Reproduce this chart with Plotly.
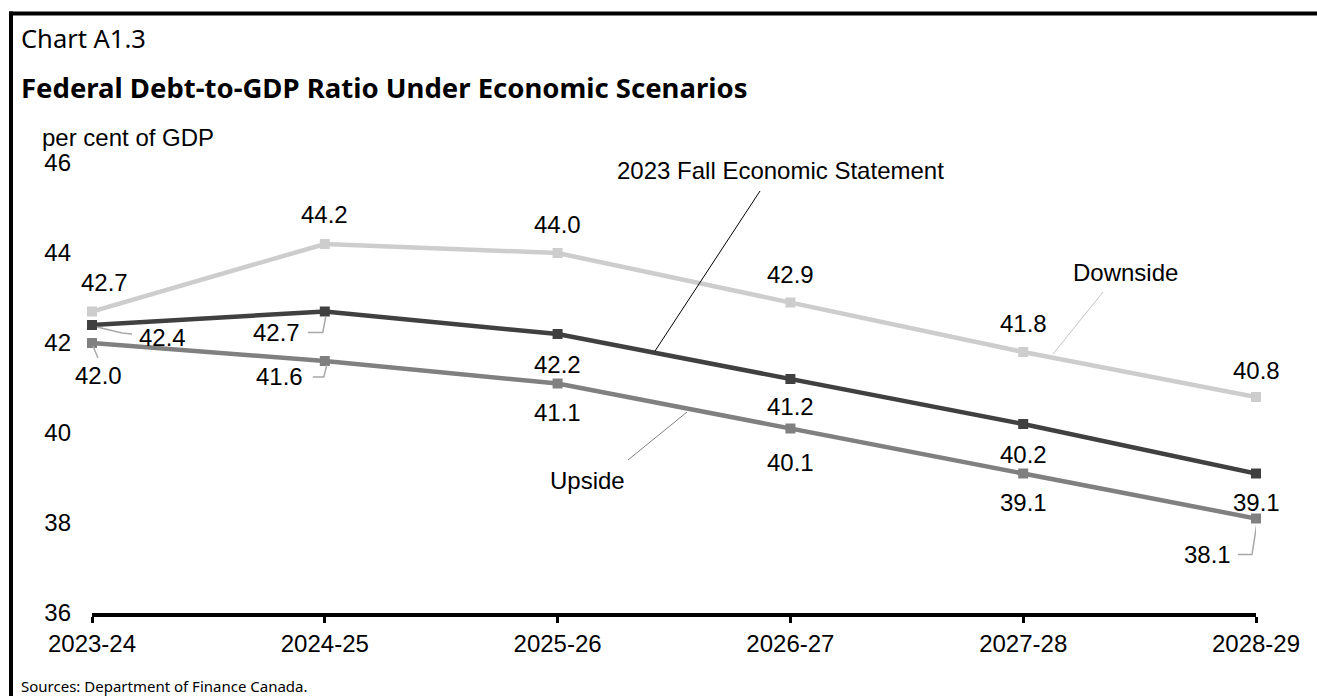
import plotly.graph_objects as go

years = ["2023-24", "2024-25", "2025-26", "2026-27", "2027-28", "2028-29"]
downside = [42.7, 44.2, 44.0, 42.9, 41.8, 40.8]
fes = [42.4, 42.7, 42.2, 41.2, 40.2, 39.1]
upside = [42.0, 41.6, 41.1, 40.1, 39.1, 38.1]
y_ticks = [36, 38, 40, 42, 44, 46]

C_DOWN = "#cdcdcd"
C_FES = "#404040"
C_UP = "#808080"
C_LEAD = "#a8a8a8"

W, H = 1317, 696
L, R, T, B = 92, 61, 163, 83
PW, PH = W - L - R, H - T - B
Y0, Y1 = 36, 46
idx = list(range(len(years)))


def px(x):
    return (x - L) / PW


def py(y):
    return (H - B - y) / PH


def dx(x):
    return (x - L) / PW * (len(years) - 1)


def dy(y):
    return Y0 + (H - B - y) / PH * (Y1 - Y0)


NUM_FONT = dict(family="Arial, Liberation Sans", size=24, color="#000")

fig = go.Figure()
for name, vals, col in [("Downside", downside, C_DOWN), ("2023 Fall Economic Statement", fes, C_FES), ("Upside", upside, C_UP)]:
    fig.add_trace(go.Scatter(x=idx, y=vals, name=name, mode="lines+markers",
                             line=dict(color=col, width=4.5),
                             marker=dict(symbol="square", size=10, color=col),
                             cliponaxis=False, showlegend=False, hoverinfo="skip"))

ann = []
# data labels: (series values, index, xshift, yshift)
d_shift = [(12, 29), (0, 30), (0, 29), (0, 28), (0, 29), (0, 27)]
f_shift = [(70, -12), (-48, -21), (0, -30), (0, -27), (0, -30), (0, -29)]
u_shift = [(6, -32), (-45, -15), (0, -29), (0, -34), (0, -29), (-49, -36)]
for vals, shifts in [(downside, d_shift), (fes, f_shift), (upside, u_shift)]:
    for i, v in enumerate(vals):
        ann.append(dict(x=i, y=v, xref="x", yref="y", text=f"{v:.1f}", showarrow=False,
                        xshift=shifts[i][0], yshift=shifts[i][1], font=NUM_FONT,
                        xanchor="center", yanchor="middle"))

# series labels
ann.append(dict(x=px(780), y=py(170), xref="paper", yref="paper", text="2023 Fall Economic Statement",
                showarrow=False, font=NUM_FONT, xanchor="center", yanchor="middle"))
ann.append(dict(x=px(1125), y=py(272), xref="paper", yref="paper", text="Downside",
                showarrow=False, font=NUM_FONT, xanchor="center", yanchor="middle"))
ann.append(dict(x=px(587), y=py(480), xref="paper", yref="paper", text="Upside",
                showarrow=False, font=NUM_FONT, xanchor="center", yanchor="middle"))

# titles
ann.append(dict(x=px(19), y=py(38), xref="paper", yref="paper", text="Chart A1.3", showarrow=False,
                font=dict(family="Noto Sans", size=25.5, color="#000"), xanchor="left", yanchor="middle"))
ann.append(dict(x=px(19), y=py(87), xref="paper", yref="paper", text="<b>Federal Debt-to-GDP Ratio Under Economic Scenarios</b>",
                showarrow=False, font=dict(family="Noto Sans", size=27.5, color="#000"), xanchor="left", yanchor="middle"))
ann.append(dict(x=px(40), y=py(137), xref="paper", yref="paper", text="per cent of GDP", showarrow=False,
                font=NUM_FONT, xanchor="left", yanchor="middle"))
ann.append(dict(x=px(19), y=py(686), xref="paper", yref="paper", text="Sources: Department of Finance Canada.",
                showarrow=False, font=dict(family="Noto Sans", size=15, color="#000"), xanchor="left", yanchor="middle"))

shapes = []
# frame
shapes.append(dict(type="line", xref="paper", yref="paper", x0=px(11), x1=px(11), y0=py(11.5), y1=py(720),
                   line=dict(color="#000", width=4)))
shapes.append(dict(type="line", xref="paper", yref="paper", x0=px(9), x1=px(1340), y0=py(13.5), y1=py(13.5),
                   line=dict(color="#000", width=4)))

# elbow leaders for data labels (pixel offsets relative to data point, y up)
leaders = [
    (0, fes[0], "M 5,-2 L 30,-8 L 40,-9"),
    (1, fes[1], "M 1,-5 L -2,-21 L -17,-21"),
    (0, upside[0], "M 1,-3 L 6,-15"),
    (1, upside[1], "M 2,-4 L -1,-16 L -12,-16"),
    (5, upside[5], "M 1,-4 L -4,-36 L -18,-36"),
]
for xi, yv, path in leaders:
    shapes.append(dict(type="path", xref="x", yref="y", xsizemode="pixel", ysizemode="pixel",
                       xanchor=xi, yanchor=yv, path=path, line=dict(color=C_LEAD, width=1.5)))

# series label leaders
shapes.append(dict(type="line", xref="x", yref="y", x0=dx(760), y0=dy(191), x1=dx(655), y1=dy(351),
                   line=dict(color="#000", width=1)))
shapes.append(dict(type="line", xref="x", yref="y", x0=dx(1103), y0=dy(292), x1=dx(1053), y1=dy(354),
                   line=dict(color="#c4c4c4", width=1)))
shapes.append(dict(type="line", xref="x", yref="y", x0=dx(628), y0=dy(460), x1=dx(687), y1=dy(412),
                   line=dict(color=C_UP, width=1)))

fig.update_layout(
    width=W, height=H, margin=dict(l=L, r=R, t=T, b=B),
    paper_bgcolor="white", plot_bgcolor="white",
    annotations=ann, shapes=shapes,
    xaxis=dict(range=[0, len(years) - 1], tickvals=idx, ticktext=years, showgrid=False, zeroline=False,
               showline=True, linecolor="#000", linewidth=4, ticks="outside", ticklen=6, tickwidth=3,
               tickcolor="#000", tickfont=NUM_FONT, fixedrange=True),
    yaxis=dict(range=[Y0, Y1], tickvals=y_ticks, showgrid=False, zeroline=False, showline=False,
               ticks="", tickfont=NUM_FONT, ticklabelstandoff=20, fixedrange=True),
)

fig.write_html("out.html")
